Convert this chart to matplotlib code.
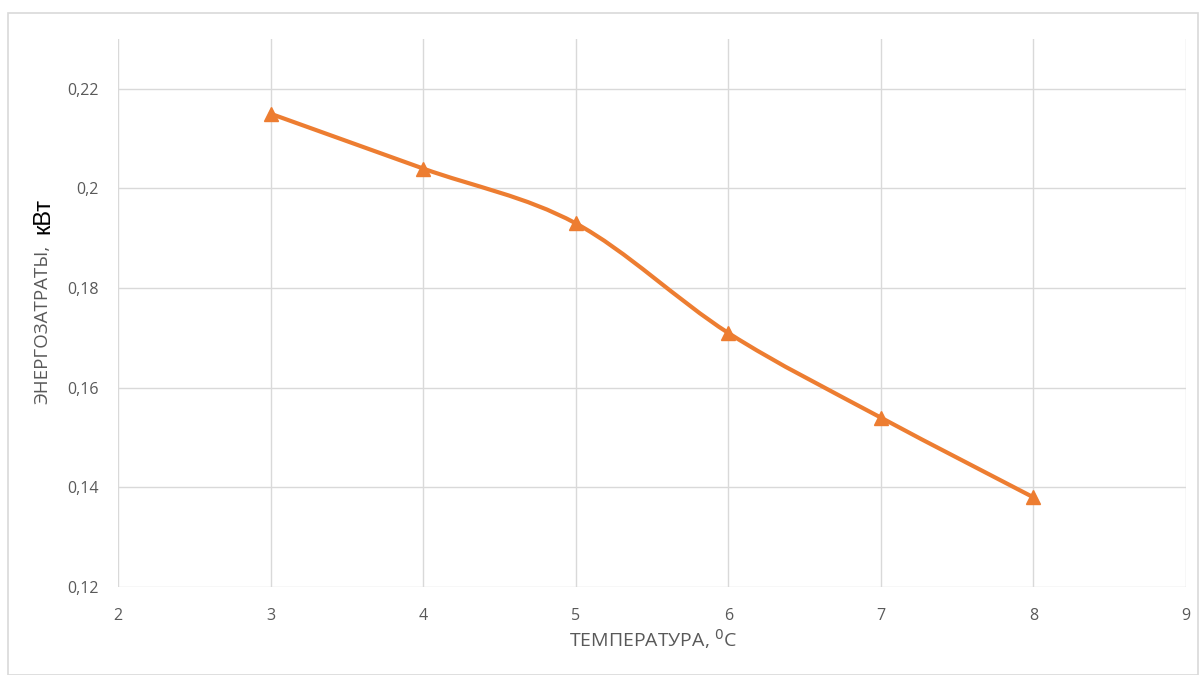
import numpy as np
import matplotlib.pyplot as plt
from matplotlib.path import Path
from matplotlib.patches import PathPatch, Rectangle
from matplotlib.ticker import FuncFormatter

plt.rcParams['font.family'] = ['Open Sans', 'DejaVu Sans']

temps = [3, 4, 5, 6, 7, 8]
energy = [0.215, 0.204, 0.193, 0.171, 0.154, 0.138]
x_ticks = [2, 3, 4, 5, 6, 7, 8, 9]
y_ticks = [0.12, 0.14, 0.16, 0.18, 0.20, 0.22]

orange = '#ED7D31'
grid_c = '#D9D9D9'
text_c = '#595959'

fig = plt.figure(figsize=(12.03, 6.75), dpi=100)
fig.patches.append(Rectangle((8 / 1203, 0), 1190 / 1203, 1 - 13 / 675, transform=fig.transFigure,
                             fill=False, edgecolor='#D9D9D9', lw=1.2))
ax = fig.add_axes([118 / 1203, 1 - 587 / 675, (1186 - 118) / 1203, (587 - 39) / 675])

ax.set_xlim(2, 9)
ax.set_ylim(0.12, 0.23)
ax.set_xticks(x_ticks)
ax.set_yticks(y_ticks)
ax.yaxis.set_major_formatter(FuncFormatter(lambda v, p: ('%g' % round(v, 2)).replace('.', ',')))
ax.grid(True, color=grid_c, lw=1.0)
ax.set_axisbelow(True)
for s in ax.spines.values():
    s.set_visible(False)
ax.tick_params(length=0, labelsize=11.5, labelcolor=text_c, pad=14)
ax.tick_params(axis='x', pad=15)

# smoothed line through the points (cubic Bezier segments, Catmull-Rom style tangents)
pts = np.column_stack([temps, energy])
verts, codes = [pts[0]], [Path.MOVETO]
for i in range(len(pts) - 1):
    p0 = pts[i - 1] if i > 0 else pts[i]
    p3 = pts[i + 2] if i + 2 < len(pts) else pts[i + 1]
    c1 = pts[i] + (pts[i + 1] - p0) / 6
    c2 = pts[i + 1] - (p3 - pts[i]) / 6
    verts += [c1, c2, pts[i + 1]]
    codes += [Path.CURVE4] * 3
ax.add_patch(PathPatch(Path(verts, codes), fill=False, edgecolor=orange, lw=3.0, capstyle='round', joinstyle='round'))
ax.plot(temps, energy, ls='none', marker='^', ms=10, color=orange, markeredgecolor=orange)

fig.text(653 / 1203, 1 - 639 / 675, 'ТЕМПЕРАТУРА, $^0$C', ha='center', va='center',
         fontsize=14, color=text_c)

# y label: grey caption plus black unit
fig.text(42 / 1203, 1 - 404 / 675, 'ЭНЕРГОЗАТРАТЫ,', rotation=90, ha='center', va='bottom',
         fontsize=13.5, color=text_c)
fig.text(43 / 1203, 1 - 234 / 675, 'кВт', rotation=90, ha='center', va='bottom',
         fontsize=17, color='black', family=['Liberation Sans', 'DejaVu Sans'])

fig.savefig('out.png', dpi=100)
